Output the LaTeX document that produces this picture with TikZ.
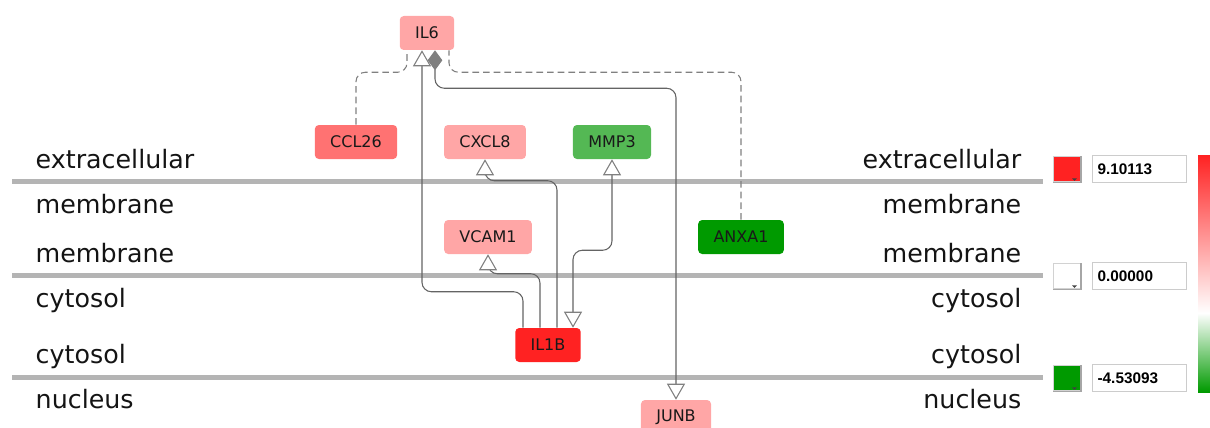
\documentclass[tikz,border=0pt]{standalone}
\usepackage{fontspec}
\setmainfont{DejaVu Sans}
\newfontfamily\numfont{Liberation Sans}
\usepackage{tikz}
\usetikzlibrary{arrows.meta,positioning,calc}
\definecolor{laneGray}{RGB}{180,180,180}
\definecolor{edgeGray}{RGB}{100,100,100}
\definecolor{tipGray}{RGB}{128,128,128}
\definecolor{upLight}{RGB}{255,166,166}
\definecolor{upMid}{RGB}{255,114,114}
\definecolor{upHigh}{RGB}{255,34,34}
\definecolor{downMid}{RGB}{84,184,84}
\definecolor{downHigh}{RGB}{0,154,0}

\tikzset{
  gene/.style={rounded corners=3pt, inner xsep=11.5pt, minimum height=25.5pt,
    font=\fontsize{12}{14}\selectfont, text=black!90},
  edge/.style={draw=edgeGray, line width=0.8pt, rounded corners=7pt},
  dashedge/.style={edge, draw=tipGray, dash pattern=on 5pt off 3pt},
  opentip/.style={-{Triangle[open, width=13.5pt, length=12pt, fill=white, color=tipGray]}},
  lane/.style={draw=laneGray, line width=3.75pt},
  comp/.style={font=\fontsize{19}{22}\selectfont, text=black!92},
  colbox/.style={draw=gray!35, line width=1pt, minimum width=20pt, minimum height=19pt, inner sep=0pt},
  valbox/.style={draw=gray!40, fill=white, anchor=west, text width=62.5pt, inner xsep=4pt,
    minimum height=20pt, align=left, font=\numfont\bfseries\fontsize{11.5}{13}\selectfont}
}

\begin{document}
\begin{tikzpicture}[x=0.75pt, y=-0.75pt]
    \useasboundingbox (0,0) rectangle (1210,428);
    % Compartment lines
    \draw[lane] (12,181) -- (1043,181);
    \draw[lane] (12,275) -- (1043,275);
    \draw[lane] (12,377) -- (1043,377);
    % Compartment names, left
    \node[comp, anchor=base west] at (31,168) {extracellular};
    \node[comp, anchor=base west] at (31,213) {membrane};
    \node[comp, anchor=base west] at (31,262) {membrane};
    \node[comp, anchor=base west] at (31,307) {cytosol};
    \node[comp, anchor=base west] at (31,363) {cytosol};
    \node[comp, anchor=base west] at (31,408) {nucleus};
    % Compartment names, right
    \node[comp, anchor=base east] at (1026,168) {extracellular};
    \node[comp, anchor=base east] at (1026,213) {membrane};
    \node[comp, anchor=base east] at (1026,262) {membrane};
    \node[comp, anchor=base east] at (1026,307) {cytosol};
    \node[comp, anchor=base east] at (1026,363) {cytosol};
    \node[comp, anchor=base east] at (1026,408) {nucleus};
    % Genes
    \node[gene, fill=upLight] (il6) at (427,33) {IL6};
    \node[gene, fill=upMid] (ccl26) at (356,142) {CCL26};
    \node[gene, fill=upLight] (cxcl8) at (485,142) {CXCL8};
    \node[gene, fill=downMid] (mmp3) at (612,142) {MMP3};
    \node[gene, fill=upLight] (vcam1) at (488,237) {VCAM1};
    \node[gene, fill=downHigh] (anxa1) at (741,237) {ANXA1};
    \node[gene, fill=upHigh] (il1b) at (548,345) {IL1B};
    \node[gene, fill=upLight] (junb) at (676,417) {JUNB};
    % Dashed links to IL6
    \draw[dashedge] (ccl26.north) |- ($(il6.south)+(-20,22)$) -- ($(il6.south)+(-20,0)$);
    \draw[dashedge] (anxa1.north) |- ($(il6.south)+(22,22)$) -- ($(il6.south)+(22,0)$);
    % Links from IL1B
    \draw[edge, opentip] ($(il1b.north)+(-25,0)$) -- ($(il1b.north)+(-25,-36)$) -| ($(il6.south)+(-5,0)$);
    \draw[edge, opentip] ($(il1b.north)+(9,0)$) -- ($(il1b.north)+(9,-147)$) -| (cxcl8.south);
    \draw[edge, opentip] ($(il1b.north)+(-8,0)$) -- ($(il1b.north)+(-8,-54)$) -| (vcam1.south);
    \draw[edge, {Triangle[open, width=13.5pt, length=12pt, fill=white, color=tipGray]}-{Triangle[open, width=13.5pt, length=12pt, fill=white, color=tipGray]}]
      (mmp3.south) -- ($(mmp3.south)+(0,91)$) -| ($(il1b.north)+(25,0)$);
    % IL6 to JUNB
    \draw[edge, {Diamond[width=11pt, length=15pt, color=tipGray]}-{Triangle[open, width=13.5pt, length=12pt, fill=white, color=tipGray]}]
      ($(il6.south)+(8,0)$) -- ($(il6.south)+(8,38)$) -| (junb.north);
    % Legend
    \node[colbox, fill=upHigh] (maxcol) at (1067,169) {};
    \node[colbox, fill=white] (zerocol) at (1067,276) {};
    \node[colbox, fill=downHigh] (mincol) at (1067,378) {};
    \foreach \c in {maxcol,zerocol,mincol}{
      \draw[gray!70, line width=1pt] (\c.south west) -- (\c.south east) -- (\c.north east);
      \fill[black!75] ($(\c.south east)+(-9,-4)$) -- ++(5,0) -- ++(-2.5,2.5) -- cycle;
    }
    \node[valbox] (maxval) at (1092,169) {9.10113};
    \node[valbox] (zeroval) at (1092,276) {0.00000};
    \node[valbox] (minval) at (1092,378) {-4.53093};
    \shade[top color=upHigh, bottom color=white] (1198,155) rectangle (1210,313);
    \shade[top color=white, bottom color=downHigh] (1198,313) rectangle (1210,392);
  \end{tikzpicture}
\end{document}
